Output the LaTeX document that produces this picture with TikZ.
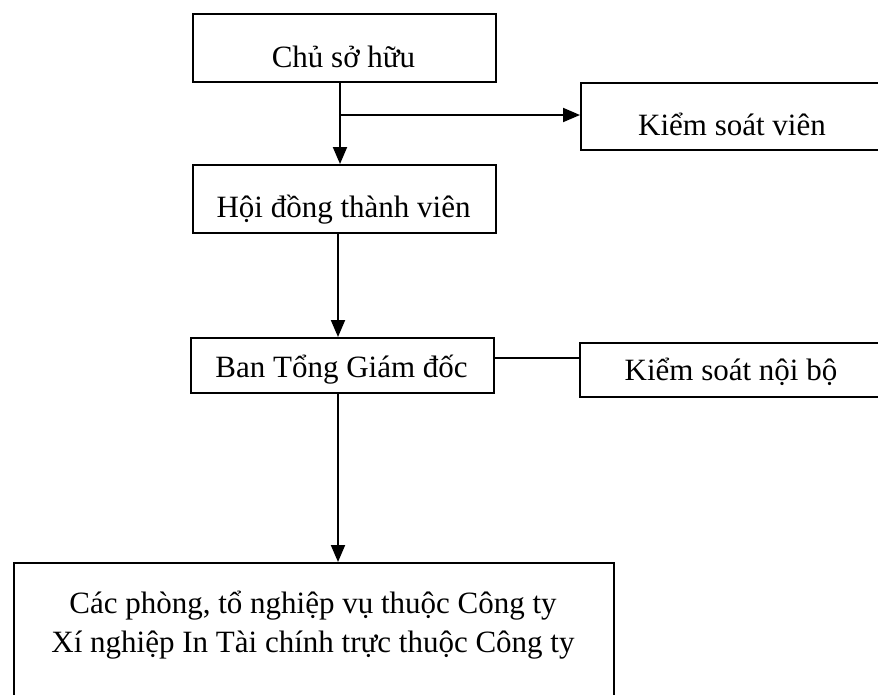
\documentclass[tikz,border=0pt]{standalone}
\usepackage{fontspec}
\setmainfont{Liberation Serif}
\usetikzlibrary{arrows.meta}
\begin{document}
\begin{tikzpicture}[x=1pt,y=-1pt,
  box/.style={draw=black,line width=2pt,rectangle,inner sep=0pt,anchor=north west},
  lbl/.style={anchor=base,inner sep=0pt,font=\fontsize{31}{37}\selectfont},
  conn/.style={line width=2pt},
  arr/.style={conn,-{Triangle[width=14pt,length=17pt]}}]
\clip (0,0) rectangle (878,694);
\fill[white] (0,0) rectangle (878,694);
% boxes
\node[box,minimum width=303pt,minimum height=68pt] (owner) at (192,13) {};
\node[box,minimum width=303pt,minimum height=68pt] (council) at (192,164) {};
\node[box,minimum width=303pt,minimum height=55pt] (ceo) at (190,337) {};
\node[box,minimum width=310pt,minimum height=67pt] (ksv) at (580,82) {};
\node[box,minimum width=310pt,minimum height=54pt] (ksnb) at (579,342) {};
\node[box,minimum width=600pt,minimum height=160pt] (depts) at (13,562) {};
% labels
\node[lbl] (tOwner) at (343.5,67) {Chủ sở hữu};
\node[lbl] (tCouncil) at (343.5,217) {Hội đồng thành viên};
\node[lbl] (tCeo) at (341.5,377) {Ban Tổng Giám đốc};
\node[lbl] (tKsv) at (732,135) {Kiểm soát viên};
\node[lbl] (tKsnb) at (731,380) {Kiểm soát nội bộ};
\node[lbl] (tD1) at (313,613) {Các phòng, tổ nghiệp vụ thuộc Công ty};
\node[lbl] (tD2) at (313,652) {Xí nghiệp In Tài chính trực thuộc Công ty};
% connectors
\coordinate (br) at (340,115);
\draw[arr] (owner.south -| br) -- (council.north -| br);
\draw[arr] (br) -- (br -| ksv.west);
\coordinate (vl) at (338,0);
\draw[arr] (council.south -| vl) -- (ceo.north -| vl);
\coordinate (hl) at (0,358);
\draw[conn] (ceo.east |- hl) -- (ksnb.west |- hl);
\draw[arr] (ceo.south -| vl) -- (depts.north -| vl);
\end{tikzpicture}
\end{document}
